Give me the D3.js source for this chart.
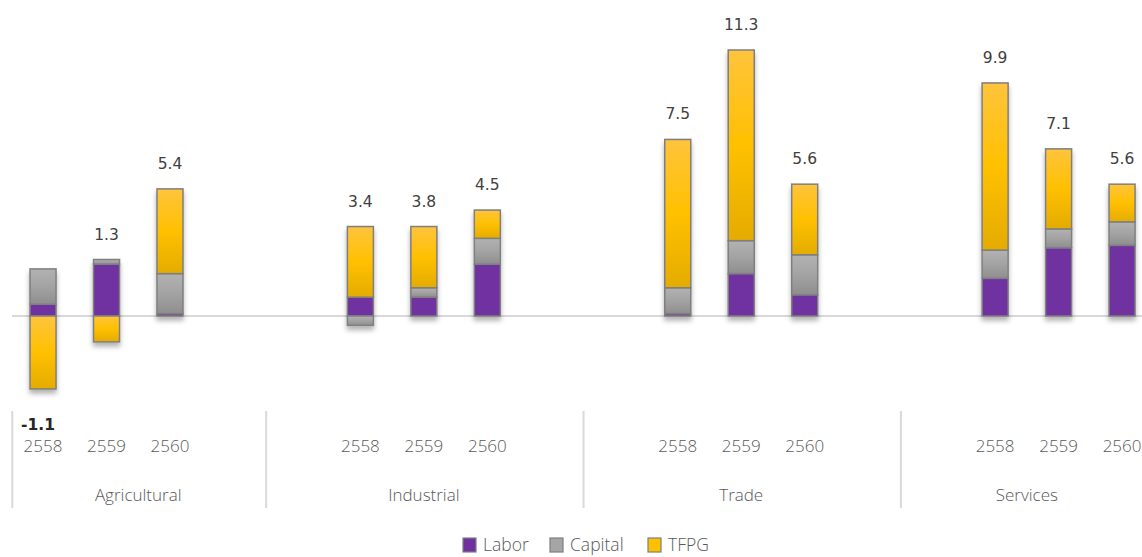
<!DOCTYPE html>
<html>
<head>
<meta charset="utf-8">
<script src="https://cdn.jsdelivr.net/npm/d3@7"></script>
<style>
  body { margin: 0; background: #fff; }
  .lbl { font-family: "DejaVu Sans", sans-serif; font-size: 15.5px; fill: #404040; }
  .axis-text { font-family: "Open Sans", sans-serif; font-weight: 300; font-size: 17px; fill: #595959; }
  .legend-text { font-family: "Open Sans", sans-serif; font-weight: 300; font-size: 17.5px; fill: #595959; }
</style>
</head>
<body>
<div class="chart"></div>
<script>
// sectors and the years inside each one ("" = empty slot on the category axis)
var sectors = ["Agricultural", "Industrial", "Trade", "Services"];
var sectorSlots = [
    ["2558", "2559", "2560", ""],
    ["", "2558", "2559", "2560", ""],
    ["", "2558", "2559", "2560", ""],
    ["", "2558", "2559", "2560"]
];
var series = ["Labor", "Capital", "TFPG"];

// values per sector, in year order 2558, 2559, 2560
var labor   = [[0.5, 2.2, 0.1], [0.8, 0.8, 2.2], [0.1, 1.8, 0.9], [1.6, 2.9, 3.0]];
var capital = [[1.5, 0.2, 1.7], [-0.4, 0.4, 1.1], [1.1, 1.4, 1.7], [1.2, 0.8, 1.0]];
var tfpg    = [[-3.1, -1.1, 3.6], [3.0, 2.6, 1.2], [6.3, 8.1, 3.0], [7.1, 3.4, 1.6]];
var totals  = [[-1.1, 1.3, 5.4], [3.4, 3.8, 4.5], [7.5, 11.3, 5.6], [9.9, 7.1, 5.6]];

var width = 1142, height = 557;
var plot = {left: 11.3, right: 1153.8, zero: 316};

var svg = d3.select(".chart").append("svg")
    .attr("width", width)
    .attr("height", height);

var defs = svg.append("defs");
function grad(id, stops) {
    var g = defs.append("linearGradient").attr("id", id)
        .attr("x1", 0).attr("y1", 0).attr("x2", 0).attr("y2", 1);
    stops.forEach(function (s) {
        g.append("stop").attr("offset", s[0]).attr("stop-color", s[1]);
    });
}
grad("g-gold", [[0, "#FFC43D"], [0.5, "#FFC000"], [1, "#E4AC00"]]);
grad("g-gray", [[0, "#B2B2B2"], [0.5, "#A3A3A3"], [1, "#8E8E8E"]]);

var shadow = defs.append("filter").attr("id", "shadow")
    .attr("x", "-30%").attr("y", "-10%").attr("width", "160%").attr("height", "130%");
shadow.append("feDropShadow").attr("dx", 0).attr("dy", 4).attr("stdDeviation", 2.5)
    .attr("flood-color", "#000").attr("flood-opacity", 0.3);

var fills = {Labor: "#7030A0", Capital: "url(#g-gray)", TFPG: "url(#g-gold)"};
var legendFills = {Labor: "#7030A0", Capital: "#A5A5A5", TFPG: "#FFC000"};

// flatten all slots on one band scale
var slots = [];
sectorSlots.forEach(function (list, si) {
    list.forEach(function (yr, i) {
        slots.push({key: si + "-" + i, sector: si, year: yr});
    });
});

var x = d3.scaleBand()
    .domain(slots.map(function (d) { return d.key; }))
    .range([plot.left, plot.right])
    .paddingInner(0.59).paddingOuter(0.295);
var y = d3.scaleLinear().domain([0, 11.3]).range([plot.zero, 50]);

// build stacked bar rows
var bars = [];
sectorSlots.forEach(function (list, si) {
    var k = 0;
    list.forEach(function (yr, i) {
        if (!yr) return;
        var vals = {Labor: labor[si][k], Capital: capital[si][k], TFPG: tfpg[si][k]};
        var pos = 0, neg = 0, segs = [];
        series.forEach(function (s) {
            var v = vals[s];
            if (v >= 0) { segs.push({s: s, y0: pos, y1: pos + v}); pos += v; }
            else { segs.push({s: s, y0: neg + v, y1: neg}); neg += v; }
        });
        bars.push({key: si + "-" + i, segs: segs, pos: pos, neg: neg, total: totals[si][k]});
        k++;
    });
});

// zero line
svg.append("line")
    .attr("x1", 12).attr("x2", width)
    .attr("y1", y(0)).attr("y2", y(0))
    .attr("stroke", "#D9D9D9").attr("stroke-width", 2);

var barG = svg.append("g").classed("bars", true);
bars.forEach(function (b) {
    var g = barG.append("g").attr("filter", "url(#shadow)");
    g.selectAll("rect")
        .data(b.segs)
        .enter()
        .append("rect")
        .attr("x", x(b.key))
        .attr("width", x.bandwidth())
        .attr("y", function (d) { return y(d.y1); })
        .attr("height", function (d) { return y(d.y0) - y(d.y1); })
        .attr("fill", function (d) { return fills[d.s]; })
        .attr("stroke", "#7F7F7F")
        .attr("stroke-width", 1.5);
});

// total labels
svg.append("g").selectAll("text")
    .data(bars)
    .enter()
    .append("text")
    .attr("class", "lbl")
    .attr("x", function (d) { return x(d.key) + x.bandwidth() / 2 + (d.total < 0 ? -5 : 0); })
    .attr("y", function (d) { return d.total < 0 ? y(d.neg) + 36 : y(d.pos) - 25; })
    .attr("text-anchor", "middle")
    .attr("dominant-baseline", "central")
    .style("font-weight", function (d) { return d.total < 0 ? "bold" : null; })
    .style("fill", function (d) { return d.total < 0 ? "#262626" : null; })
    .text(function (d) { return d.total.toFixed(1); });

// category axis: year labels, group separators, sector names
var axisG = svg.append("g");
axisG.selectAll("text.year")
    .data(slots.filter(function (d) { return d.year; }))
    .enter()
    .append("text")
    .attr("class", "axis-text year")
    .attr("x", function (d) { return x(d.key) + x.bandwidth() / 2; })
    .attr("y", 445)
    .attr("text-anchor", "middle")
    .attr("dominant-baseline", "central")
    .text(function (d) { return d.year; });

var step = x.step();
var groups = sectors.map(function (name, si) {
    var first = slots.find(function (d) { return d.sector === si; });
    var start = x(first.key) - x.paddingInner() * step / 2;
    return {name: name, x0: start, x1: start + sectorSlots[si].length * step};
});

axisG.selectAll("line")
    .data(groups)
    .enter()
    .append("line")
    .attr("x1", function (d) { return d.x0 + 1; })
    .attr("x2", function (d) { return d.x0 + 1; })
    .attr("y1", 411).attr("y2", 508)
    .attr("stroke", "#D9D9D9").attr("stroke-width", 2);

axisG.selectAll("text.sector")
    .data(groups)
    .enter()
    .append("text")
    .attr("class", "axis-text sector")
    .attr("x", function (d) { return (d.x0 + d.x1) / 2; })
    .attr("y", 494)
    .attr("text-anchor", "middle")
    .attr("dominant-baseline", "central")
    .text(function (d) { return d.name; });

// legend
var legendX = [463, 550, 648];
var legend = svg.append("g").selectAll("g")
    .data(series)
    .enter()
    .append("g")
    .attr("transform", function (d, i) { return "translate(" + legendX[i] + ",538)"; });
legend.append("rect")
    .attr("width", 13).attr("height", 14)
    .attr("fill", function (d) { return legendFills[d]; })
    .attr("stroke", "#7F7F7F").attr("stroke-width", 1.2);
legend.append("text")
    .attr("class", "legend-text")
    .attr("x", 20).attr("y", 6)
    .attr("dominant-baseline", "central")
    .text(function (d) { return d; });
</script>
</body>
</html>
